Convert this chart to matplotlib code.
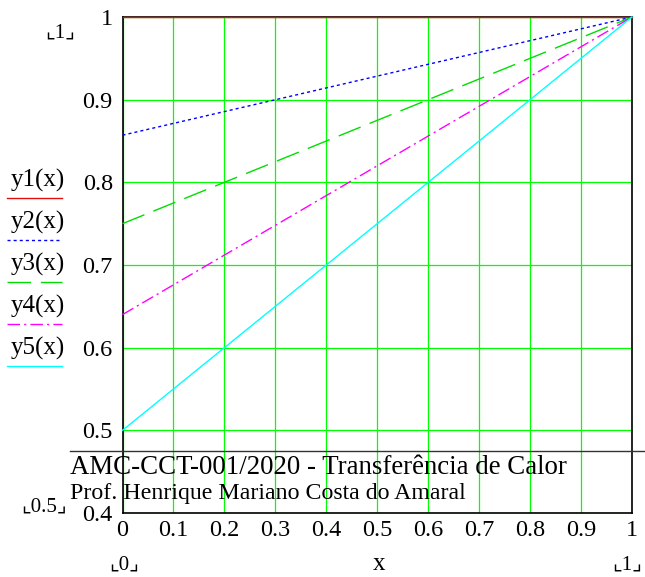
import matplotlib
matplotlib.use("Agg")
import matplotlib.pyplot as plt
from matplotlib.lines import Line2D

plt.rcParams["font.family"] = ["Liberation Serif", "DejaVu Sans", "Noto Sans CJK JP"]
plt.rcParams["lines.scale_dashes"] = False

W, H = 645, 577

# data (values at x = 0 and x = 1)
x = [0.0, 1.0]
y1 = [1.0, 1.0]
y2 = [0.857, 1.0]
y3 = [0.75, 1.0]
y4 = [0.64, 1.0]
y5 = [0.5, 1.0]

names = ["y1(x)", "y2(x)", "y3(x)", "y4(x)", "y5(x)"]
series = [y1, y2, y3, y4, y5]
colors = ["#e01010", "#0000ff", "#00dd00", "#ff00ff", "#00ffff"]
dashes = [None, (2.2, 2.2), (17, 7), (9, 3, 1.5, 3), None]

xticks = [0, 0.1, 0.2, 0.3, 0.4, 0.5, 0.6, 0.7, 0.8, 0.9, 1]
yticks = [0.4, 0.5, 0.6, 0.7, 0.8, 0.9, 1]


def fx(px):
    return px / W


def fy(py):
    return 1 - py / H


fig = plt.figure(figsize=(W / 100, H / 100), dpi=100)
left, right, top, bottom = 122.5, 632, 17, 513
ax = fig.add_axes([fx(left), fy(bottom), fx(right - left), (bottom - top) / H])

for ys, c, d in zip(series, colors, dashes):
    ln, = ax.plot(x, ys, color=c, lw=1.0, zorder=3, clip_on=False)
    if d:
        ln.set_dashes(d)

ax.set_xlim(0, 1)
ax.set_ylim(0.4, 1)
ax.set_xticks(xticks)
ax.set_yticks(yticks)
ax.set_xticklabels([f"{v:g}" for v in xticks])
ax.set_yticklabels([f"{v:g}" for v in yticks])
ax.grid(True, color="#00ff00", lw=0.9)
ax.tick_params(axis="x", length=0, labelsize=17.5, pad=5)
ax.tick_params(axis="y", length=0, labelsize=17.5, pad=7)
for s in ax.spines.values():
    s.set_linewidth(1.2)
    s.set_color("black")

# legend on the left
for i, (n, c, d) in enumerate(zip(names, colors, dashes)):
    ty = 180 + i * 42
    fig.text(fx(38), fy(ty), n, fontsize=18, ha="center", va="center")
    ln = Line2D([fx(7), fx(62)], [fy(ty + 18), fy(ty + 18)], color=c, lw=1.0,
                transform=fig.transFigure)
    if d:
        ln.set_dashes(d)
    fig.add_artist(ln)


def limit_label(px, py, s):
    # Mathcad style limit marker with corner brackets
    fig.text(fx(px), fy(py), s, fontsize=15, ha="center", va="center")


limit_label(60, 33, "\u231e1\u231f")
limit_label(44, 507, "\u231e0.5\u231f")
limit_label(124, 565, "\u231e0\u231f")
limit_label(627, 565, "\u231e1\u231f")
fig.text(fx(379), fy(564), "x", fontsize=18, ha="center", va="center")

# title block overlay
fig.add_artist(Line2D([fx(70), fx(645)], [fy(451), fy(451)], color="#333333",
                      lw=1.0, transform=fig.transFigure))
fig.text(fx(70), fy(467), "AMC-CCT-001/2020 - Transferência de Calor",
         fontsize=19.4, ha="left", va="center")
fig.text(fx(70), fy(494), "Prof. Henrique Mariano Costa do Amaral",
         fontsize=17.2, ha="left", va="center")

fig.savefig("out.png", dpi=100)
